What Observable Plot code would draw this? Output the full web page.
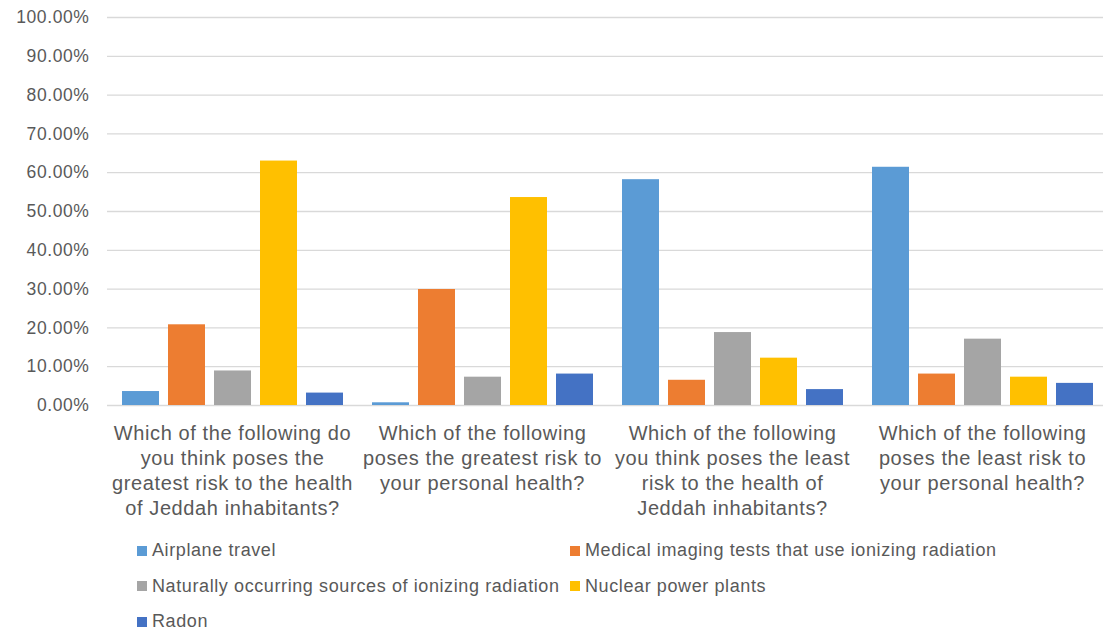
<!DOCTYPE html>
<html>
<head>
<meta charset="utf-8">
<script src="https://cdn.jsdelivr.net/npm/d3@7"></script>
<script src="https://cdn.jsdelivr.net/npm/@observablehq/plot@0.6"></script>
<style>
  html, body { margin: 0; background: #fff; overflow: hidden; font-family: "Liberation Sans", Arial, Helvetica, sans-serif; }
  #chart { position: relative; width: 1103px; overflow: hidden; }
  #legend {
    display: grid;
    grid-template-columns: 433px auto;
    grid-auto-rows: 35.5px;
    padding: 8px 0 0 137px;
    color: #595959;
    font-size: 18px;
    letter-spacing: 0.6px;
  }
  .item { display: flex; align-items: center; white-space: nowrap; }
  .swatch { width: 10px; height: 10px; margin-right: 5px; flex: none; }
</style>
</head>
<body>
<div id="chart"></div>
<script>
// Survey questions (x groups) with their line breaks
const questions = [
  "Which of the following do\nyou think poses the\ngreatest risk to the health\nof Jeddah inhabitants?",
  "Which of the following\nposes the greatest risk to\nyour personal health?",
  "Which of the following\nyou think poses the least\nrisk to the health of\nJeddah inhabitants?",
  "Which of the following\nposes the least risk to\nyour personal health?"
];

// Risk sources (series)
const series = [
  "Airplane travel",
  "Medical imaging tests that use ionizing radiation",
  "Naturally occurring sources of ionizing radiation",
  "Nuclear power plants",
  "Radon"
];

// Share of respondents per question, one array per series
const airplane = [0.036, 0.007, 0.582, 0.614];
const medical  = [0.208, 0.299, 0.065, 0.081];
const natural  = [0.089, 0.073, 0.188, 0.171];
const nuclear  = [0.630, 0.536, 0.122, 0.073];
const radon    = [0.032, 0.081, 0.041, 0.057];

const colors = ["#5B9BD5", "#ED7D31", "#A5A5A5", "#FFC000", "#4472C4"];
const yTicks = [0, 0.1, 0.2, 0.3, 0.4, 0.5, 0.6, 0.7, 0.8, 0.9, 1];

const valuesBySeries = [airplane, medical, natural, nuclear, radon];
const rows = [];
series.forEach((s, i) => {
  questions.forEach((q, j) => rows.push({question: q, series: s, value: valuesBySeries[i][j]}));
});

const font = '"Liberation Sans", Arial, Helvetica, sans-serif';

// The plot area runs a few pixels past the right edge of the container,
// so the gridlines reach the edge of the page.
const chart = Plot.plot({
  width: 1107,
  height: 525,
  marginLeft: 106,
  marginRight: 0,
  marginTop: 17,
  marginBottom: 120,
  style: {fontFamily: font, color: "#595959", background: "#fff", letterSpacing: "0.6px", maxWidth: "none"},
  fx: {domain: questions, paddingInner: 0, paddingOuter: 0, label: null},
  x: {domain: series, paddingInner: 0.2, paddingOuter: 0.3, axis: null},
  y: {domain: [0, 1], label: null},
  color: {domain: series, range: colors},
  marks: [
    Plot.ruleY(yTicks, {stroke: "#d9d9d9", strokeWidth: 1.3}),
    Plot.barY(rows, {fx: "question", x: "series", y: "value", fill: "series"}),
    Plot.axisY({
      ticks: yTicks,
      tickFormat: d => (d * 100).toFixed(2) + "%",
      tickSize: 0,
      tickPadding: 18,
      fontSize: 17.5,
      label: null
    }),
    Plot.axisFx({
      anchor: "bottom",
      tickSize: 0,
      tickPadding: 17,
      fontSize: 20,
      lineHeight: 1.25,
      label: null
    })
  ]
});

const container = document.getElementById("chart");
container.appendChild(chart);

// Legend below the plot
const legend = document.createElement("div");
legend.id = "legend";
series.forEach((s, i) => {
  const item = document.createElement("div");
  item.className = "item";
  const sw = document.createElement("span");
  sw.className = "swatch";
  sw.style.background = colors[i];
  const label = document.createElement("span");
  label.textContent = s;
  item.append(sw, label);
  legend.appendChild(item);
});
container.appendChild(legend);
</script>
</body>
</html>
